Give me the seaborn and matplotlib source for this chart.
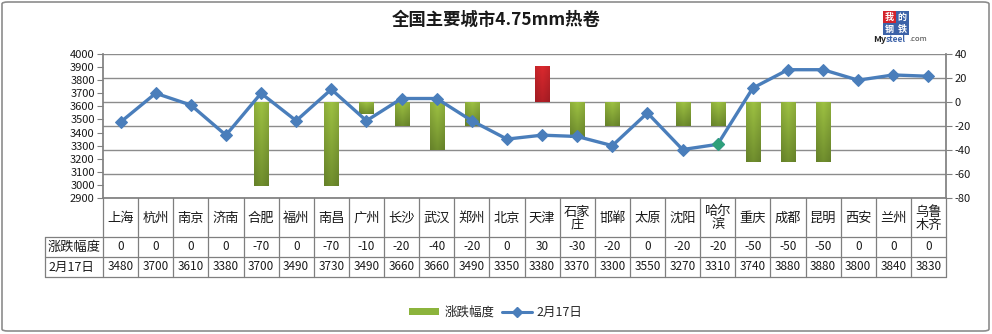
import numpy as np
import pandas as pd
import matplotlib
matplotlib.use("Agg")
import matplotlib.pyplot as plt
from matplotlib.lines import Line2D
from matplotlib.patches import Patch, FancyBboxPatch, Rectangle
import seaborn as sns

# ---- data ----
cities = ["上海", "杭州", "南京", "济南", "合肥", "福州", "南昌", "广州", "长沙", "武汉",
          "郑州", "北京", "天津", "石家庄", "邯郸", "太原", "沈阳", "哈尔滨", "重庆", "成都",
          "昆明", "西安", "兰州", "乌鲁木齐"]
changes = [0, 0, 0, 0, -70, 0, -70, -10, -20, -40, -20, 0, 30, -30, -20, 0, -20, -20,
           -50, -50, -50, 0, 0, 0]
prices = [3480, 3700, 3610, 3380, 3700, 3490, 3730, 3490, 3660, 3660, 3490, 3350, 3380,
          3370, 3300, 3550, 3270, 3310, 3740, 3880, 3880, 3800, 3840, 3830]
price_ticks = list(range(2900, 4001, 100))
change_ticks = list(range(-80, 41, 20))
title = "全国主要城市4.75mm热卷"
change_label = "涨跌幅度"
price_label = "2月17日"
highlight_city = "哈尔滨"

df = pd.DataFrame({"city": cities, "change": changes, "price": prices})
df["pos"] = np.arange(len(df))

sns.set_theme(style="white")
plt.rcParams["font.family"] = ["Noto Sans CJK SC", "DejaVu Sans"]
plt.rcParams["axes.unicode_minus"] = False

W, H = 992, 334
fig = plt.figure(figsize=(W / 100, H / 100), dpi=100)
fig.patch.set_facecolor("white")


def fx(px):
    return px / W


def fy(py):
    return 1 - py / H


L, R, T, B = 103, 946, 54, 198
ax = fig.add_axes([fx(L), fy(B), fx(R) - fx(L), fy(T) - fy(B)])

# ---- bars (change, right-hand scale) ----
bar_green = "#8CB43C"
bar_red = "#C8242C"
palette = [bar_red if v > 0 else bar_green for v in changes]
sns.barplot(data=df, x="city", y="change", hue="city", palette=palette, legend=False,
            width=0.4, ax=ax, zorder=3, saturation=1)
ax.set_xticks([])
ax.set_xlabel("")
ax.set_ylabel("")
ax.grid(axis="y", color="#8C8C8C", linewidth=1.0, zorder=0)
ax.set_axisbelow(True)

# vertical gradient fill on each bar
for patch, v in zip(ax.patches, changes):
    x0, y0 = patch.get_x(), patch.get_y()
    w, h = patch.get_width(), patch.get_height()
    if v > 0:
        top, bot = np.array([0.86, 0.16, 0.18]), np.array([0.70, 0.12, 0.15])
    else:
        top, bot = np.array([0.62, 0.76, 0.26]), np.array([0.44, 0.56, 0.18])
    ylo, yhi = min(y0, y0 + h), max(y0, y0 + h)
    t = np.linspace(0, 1, 64)[:, None, None]
    horiz = 1 - 0.10 * np.abs(np.linspace(-1, 1, 16))[None, :, None]
    grad = (bot + (top - bot) * t) * horiz
    patch.set_facecolor("none")
    patch.set_edgecolor("none")
    im = ax.imshow(np.clip(grad, 0, 1), extent=[x0, x0 + w, ylo, yhi], origin="lower",
                   aspect="auto", zorder=3, interpolation="bilinear")
    im.set_clip_path(patch)
ax.set_xlim(-0.5, len(cities) - 0.5)
ax.set_ylim(-80, 40)
ax.set_yticks(change_ticks)

# ---- line (price, left-hand scale) ----
ax2 = ax.twinx()
line_color = "#4A7EBB"
sns.lineplot(data=df, x="pos", y="price", ax=ax2, color=line_color, linewidth=2.4,
             marker="D", markersize=6.5, markeredgecolor=line_color, zorder=5)
sns.scatterplot(data=df[df["city"] == highlight_city], x="pos", y="price", ax=ax2,
                marker="D", s=40, color="#2EA07A", edgecolor="#2EA07A", zorder=6)
ax2.set_ylim(2900, 4000)
ax2.set_yticks(price_ticks)
ax2.set_xlim(-0.5, len(cities) - 0.5)
ax2.set_xlabel("")
ax2.set_ylabel("")
ax2.set_xticks([])

# price scale on the left, change scale on the right
ax.yaxis.tick_right()
ax.yaxis.set_label_position("right")
ax2.yaxis.tick_left()
ax2.yaxis.set_label_position("left")

for a in (ax, ax2):
    for s in a.spines.values():
        s.set_visible(False)
    a.tick_params(axis="y", length=4, width=0.8, color="#808080", labelsize=8,
                  labelcolor="#1a1a1a", pad=2)
for side in ("left", "right", "bottom"):
    ax2.spines[side].set_visible(True)
    ax2.spines[side].set_color("#808080")

# ---- data table under the plot ----
grid_c = "#7F7F7F"
ncol = len(cities)
colw = (R - L) / ncol
row_y = [B, 237, 257, 277]
label_left = 45


def hline(x0, x1, y):
    fig.add_artist(Line2D([fx(x0), fx(x1)], [fy(y), fy(y)], color=grid_c, lw=0.9))


def vline(x, y0, y1):
    fig.add_artist(Line2D([fx(x), fx(x)], [fy(y0), fy(y1)], color=grid_c, lw=0.9))


for y in row_y[1:]:
    hline(label_left, R, y)
for i in range(ncol + 1):
    vline(L + i * colw, B, row_y[-1])
vline(label_left, row_y[1], row_y[-1])

for i, c in enumerate(cities):
    cx = L + (i + 0.5) * colw
    disp = c if len(c) <= 2 else c[:2] + "\n" + c[2:]
    fig.text(fx(cx), fy((B + row_y[1]) / 2 + 1), disp, ha="center", va="center",
             fontsize=9.5, color="#1a1a1a", linespacing=1.0)
    fig.text(fx(cx), fy((row_y[1] + row_y[2]) / 2), f"{changes[i]}", ha="center",
             va="center", fontsize=8.5, color="#1a1a1a")
    fig.text(fx(cx), fy((row_y[2] + row_y[3]) / 2), f"{prices[i]}", ha="center",
             va="center", fontsize=8.5, color="#1a1a1a")
fig.text(fx(label_left + 3), fy((row_y[1] + row_y[2]) / 2), change_label, ha="left",
         va="center", fontsize=9.5, color="#1a1a1a")
fig.text(fx(label_left + 3), fy((row_y[2] + row_y[3]) / 2), price_label, ha="left",
         va="center", fontsize=9, color="#1a1a1a")

# ---- title ----
fig.text(0.5, fy(20), title, ha="center", va="center", fontsize=12.5,
         fontweight="bold", color="#1a1a1a")

# ---- logo ----
for ch, (px, py), col in [("我", (889, 17), "#D3232B"), ("的", (902, 17), "#3C62A8"),
                          ("钢", (889, 29), "#3C62A8"), ("铁", (902, 29), "#3C62A8")]:
    fig.add_artist(Rectangle((fx(px - 6.5), fy(py + 6)), fx(13), 12 / H,
                             transform=fig.transFigure, color=col, lw=0))
    fig.text(fx(px), fy(py), ch, ha="center", va="center", fontsize=6.5,
             color="white", fontweight="bold")
fig.text(fx(873), fy(39), "My", ha="left", va="center", fontsize=6.5,
         fontweight="bold", color="#222222")
fig.text(fx(886), fy(39), "steel", ha="left", va="center", fontsize=6,
         color="#3C62A8", fontweight="bold")
fig.text(fx(909), fy(39), ".com", ha="left", va="center", fontsize=5.5,
         color="#444444")

# ---- legend ----
handles = [Patch(facecolor=bar_green, edgecolor="none", label=change_label),
           Line2D([0], [0], color=line_color, lw=2.2, marker="D", markersize=5,
                  label=price_label)]
fig.legend(handles=handles, loc="center", bbox_to_anchor=(fx(496), fy(312)), ncol=2,
           frameon=False, fontsize=9, handlelength=2.4, handleheight=0.5,
           columnspacing=0.6, handletextpad=0.4)

# ---- outer frame ----
fig.add_artist(FancyBboxPatch((fx(2), fy(331)), fx(987), (329) / H,
                              boxstyle="round,pad=0,rounding_size=0.006",
                              transform=fig.transFigure, facecolor="none",
                              edgecolor="#8C8C8C", lw=1.2))

fig.savefig("out.png", dpi=100, facecolor="white")
